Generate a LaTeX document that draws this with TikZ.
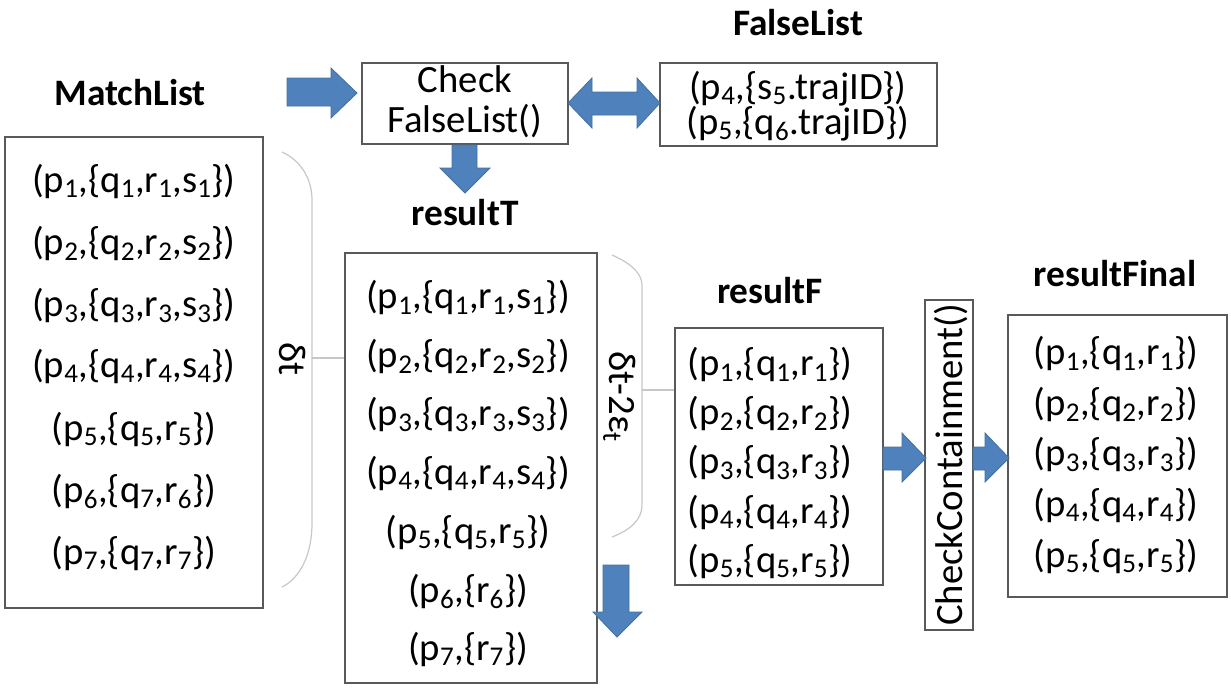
\documentclass[tikz,border=0pt]{standalone}
\usepackage{fontspec}
\setmainfont{Carlito}
\begin{document}
\begin{tikzpicture}[x=0.75pt,y=-0.75pt,
  box/.style={draw=black!65,line width=0.9pt,inner sep=0pt},
  row/.style={font=\fontsize{29}{31}\selectfont,inner sep=0pt,anchor=base},
  ttl/.style={font=\fontsize{28}{30}\selectfont\bfseries,inner sep=0pt,anchor=base},
  barrow/.style={fill=arrowblue,draw=arrowedge,line width=0.6pt,line join=miter},
  brace/.style={draw=black!22,line width=0.9pt}]
\definecolor{arrowblue}{HTML}{4F81BD}
\definecolor{arrowedge}{HTML}{41719C}
\useasboundingbox (0,0) rectangle (1231,690);
\newcommand\pxbox[5]{\node[box,minimum width={(#4-#2)*0.75pt},minimum height={(#5-#3)*0.75pt}] (#1) at ({(#2+#4)/2},{(#3+#5)/2}) {};}
% boxes
\pxbox{match}{5}{137}{263}{608}
\pxbox{check}{362}{63}{568}{144}
\pxbox{falsel}{660}{63}{937}{146}
\pxbox{rest}{345}{253}{597}{683}
\pxbox{resf}{675}{328}{883}{585}
\pxbox{cc}{925}{300}{973}{630}
\pxbox{resfin}{1008}{315}{1227}{597}
% titles
\node[ttl] (tmatch) at (130,105) {MatchList};
\node[ttl] (tfalse) at (798,35) {FalseList};
\node[ttl] (tresT) at (465,225) {resultT};
\node[ttl] (tresF) at (770,303) {resultF};
\node[ttl] (tresFin) at (1115,286) {resultFinal};
% check falselist text
\node[row] (c1) at (465,92) {Check};
\node[row] (c2) at (465,132) {FalseList()};
\node[row,rotate=90] (cct) at (962,465) {CheckContainment()};
% FalseList
\node[row] (f1) at (798,99) {(p\textsubscript{4},\{s\textsubscript{5}.trajID\})};
\node[row] (f2) at (798,134) {(p\textsubscript{5},\{q\textsubscript{6}.trajID\})};
% MatchList rows
\node[row] (m1) at (134,192) {(p\textsubscript{1},\{q\textsubscript{1},r\textsubscript{1},s\textsubscript{1}\})};
\node[row] (m2) at (134,254) {(p\textsubscript{2},\{q\textsubscript{2},r\textsubscript{2},s\textsubscript{2}\})};
\node[row] (m3) at (134,316) {(p\textsubscript{3},\{q\textsubscript{3},r\textsubscript{3},s\textsubscript{3}\})};
\node[row] (m4) at (134,377) {(p\textsubscript{4},\{q\textsubscript{4},r\textsubscript{4},s\textsubscript{4}\})};
\node[row] (m5) at (134,440) {(p\textsubscript{5},\{q\textsubscript{5},r\textsubscript{5}\})};
\node[row] (m6) at (134,502) {(p\textsubscript{6},\{q\textsubscript{7},r\textsubscript{6}\})};
\node[row] (m7) at (134,564) {(p\textsubscript{7},\{q\textsubscript{7},r\textsubscript{7}\})};
% resultT rows
\node[row] (t1) at (468,308) {(p\textsubscript{1},\{q\textsubscript{1},r\textsubscript{1},s\textsubscript{1}\})};
\node[row] (t2) at (468,367) {(p\textsubscript{2},\{q\textsubscript{2},r\textsubscript{2},s\textsubscript{2}\})};
\node[row] (t3) at (468,425) {(p\textsubscript{3},\{q\textsubscript{3},r\textsubscript{3},s\textsubscript{3}\})};
\node[row] (t4) at (468,484) {(p\textsubscript{4},\{q\textsubscript{4},r\textsubscript{4},s\textsubscript{4}\})};
\node[row] (t5) at (468,543) {(p\textsubscript{5},\{q\textsubscript{5},r\textsubscript{5}\})};
\node[row] (t6) at (468,602) {(p\textsubscript{6},\{r\textsubscript{6}\})};
\node[row] (t7) at (468,660) {(p\textsubscript{7},\{r\textsubscript{7}\})};
% resultF rows
\node[row] (r1) at (770,375) {(p\textsubscript{1},\{q\textsubscript{1},r\textsubscript{1}\})};
\node[row] (r2) at (770,424) {(p\textsubscript{2},\{q\textsubscript{2},r\textsubscript{2}\})};
\node[row] (r3) at (770,473) {(p\textsubscript{3},\{q\textsubscript{3},r\textsubscript{3}\})};
\node[row] (r4) at (770,523) {(p\textsubscript{4},\{q\textsubscript{4},r\textsubscript{4}\})};
\node[row] (r5) at (770,572) {(p\textsubscript{5},\{q\textsubscript{5},r\textsubscript{5}\})};
% resultFinal rows
\node[row] (z1) at (1116,364) {(p\textsubscript{1},\{q\textsubscript{1},r\textsubscript{1}\})};
\node[row] (z2) at (1116,415) {(p\textsubscript{2},\{q\textsubscript{2},r\textsubscript{2}\})};
\node[row] (z3) at (1116,465) {(p\textsubscript{3},\{q\textsubscript{3},r\textsubscript{3}\})};
\node[row] (z4) at (1116,516) {(p\textsubscript{4},\{q\textsubscript{4},r\textsubscript{4}\})};
\node[row] (z5) at (1116,567) {(p\textsubscript{5},\{q\textsubscript{5},r\textsubscript{5}\})};
% braces
\draw[brace] (282,152) .. controls (300,160) and (312,178) .. (312,200) -- (312,523) .. controls (312,555) and (300,578) .. (282,587);
\coordinate (b1) at (312,358);
\draw[brace] (b1) -- (rest.west |- b1);
\node[row,rotate=-90] (dt) at (279,359) {δt};
\draw[brace] (612,255) .. controls (628,262) and (642,272) .. (642,285) -- (642,505) .. controls (642,520) and (630,530) .. (612,537);
\coordinate (b2) at (642,390);
\draw[brace] (b2) -- (resf.west |- b2);
\node[row,rotate=-90] (dte) at (609,397) {δt-2ε\textsubscript{t}};
% block arrows
\draw[barrow] (287,78) -- (331,78) -- (331,68) -- (357,93) -- (331,118) -- (331,106) -- (287,106) -- cycle;
\draw[barrow] (568,103) -- (592,78) -- (592,92) -- (637,92) -- (637,78) -- (660,103) -- (637,128) -- (637,115) -- (592,115) -- (592,128) -- cycle;
\draw[barrow] (452,145) -- (477,145) -- (477,168) -- (490,168) -- (465,193) -- (440,168) -- (452,168) -- cycle;
\draw[barrow] (603,565) -- (629,565) -- (629,612) -- (642,612) -- (617,637) -- (593,612) -- (603,612) -- cycle;
\draw[barrow] (883,447) -- (902,447) -- (902,433) -- (926,458) -- (902,482) -- (902,470) -- (883,470) -- cycle;
\draw[barrow] (973,447) -- (985,447) -- (985,433) -- (1009,458) -- (985,482) -- (985,470) -- (973,470) -- cycle;
\end{tikzpicture}
\end{document}
